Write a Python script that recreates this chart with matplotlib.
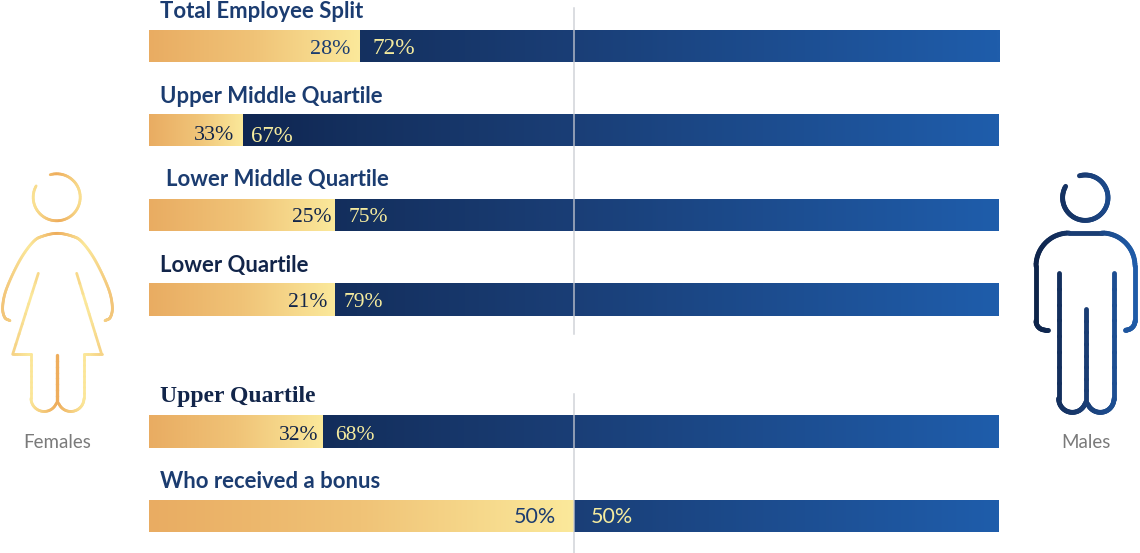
import numpy as np
import matplotlib
matplotlib.use("Agg")
import matplotlib.pyplot as plt
from matplotlib.colors import LinearSegmentedColormap
from matplotlib.collections import LineCollection

# ---- data ----
categories = ["Total Employee Split", "Upper Middle Quartile", "Lower Middle Quartile",
              "Lower Quartile", "Upper Quartile", "Who received a bonus"]
female_labels = ["28%", "33%", "25%", "21%", "32%", "50%"]
male_labels = ["72%", "67%", "75%", "79%", "68%", "50%"]
# drawn width of the female segment, as % of the bar (the picture differs from its labels)
female_drawn = [24.8, 11.1, 21.9, 21.9, 20.5, 50.0]

# ---- layout (pixels) ----
W, H = 1140, 553
BAR_L, BAR_R = 149, 999
row_y = [46, 130, 215, 299.5, 431.5, 516]
bar_h = 32.5
title_x = [160, 160, 166, 160, 160, 160]
title_y = [18.5, 103, 186, 272, 402, 488.5]
title_col = ["#1b3c70", "#1b3c70", "#1b3c70", "#12254a", "#12254a", "#1b3c70"]
f_gap = [9, 9, 4, 7.5, 5, 18]
m_gap = [13, 8, 13, 8, 12, 17]
label_dy = [3, 6, 3, 3, 3.5, 1]
f_size = [15.8, 15.8, 15.5, 15.5, 15.5, 15.5]
m_size = [16.8, 16.5, 15.5, 15.5, 15.5, 15.5]

gold = LinearSegmentedColormap.from_list("gold", ["#e9ac62", "#f0c377", "#fbe99b"])
navy_bar = LinearSegmentedColormap.from_list(
    "navy", [(0, "#0f2550"), (.16, "#14305f"), (.44, "#1a3e76"), (1, "#1f5dab")])
navy_fig = LinearSegmentedColormap.from_list("navyf", ["#0d2349", "#1a3d74", "#1f5dab"])
gold_fig = LinearSegmentedColormap.from_list("goldf", ["#f2c478", "#fbe89a", "#eead5c", "#fbe89a", "#f2c478"])

fig = plt.figure(figsize=(W / 100, H / 100), dpi=100)
ax = fig.add_axes([0, 0, 1, 1])
scale = (BAR_R - BAR_L) / 100
ax.set_xlim(-BAR_L / scale, (W - BAR_L) / scale)
ax.set_ylim(H, 0)
ax.axis("off")


def fill(bar, cmap, vmin=0, vmax=1):
    x, y = bar.get_x(), bar.get_y()
    w, h = bar.get_width(), bar.get_height()
    g = np.linspace(vmin, vmax, 512).reshape(1, -1)
    im = ax.imshow(g, extent=(x, x + w, y + h, y), cmap=cmap, vmin=0, vmax=1,
                   aspect="auto", zorder=2, interpolation="bilinear")
    im.set_clip_path(bar)


for i, v in enumerate(female_drawn):
    fb = ax.barh(row_y[i], v, height=bar_h, left=0, color="none", lw=0)[0]
    mb = ax.barh(row_y[i], 100 - v, height=bar_h, left=v, color="none", lw=0)[0]
    fill(fb, gold)
    fill(mb, navy_bar, (v - 10) / 90, 1)
    fam = "Lato" if i == 5 else "Liberation Serif"
    ax.text(v - f_gap[i] / scale, row_y[i] + label_dy[i], female_labels[i], ha="right", va="center",
            family=fam, fontsize=f_size[i], color="#1b3c70" if i in (0, 5) else "#12254a", zorder=4)
    ax.text(v + m_gap[i] / scale, row_y[i] + label_dy[i], male_labels[i], ha="left", va="center",
            family=fam, fontsize=m_size[i], color="#f5eb9e", zorder=4)
    serif = categories[i] == "Upper Quartile"
    ax.text((title_x[i] - BAR_L) / scale, title_y[i], categories[i], ha="left", va="baseline",
            family="Liberation Serif" if serif else "Lato", fontweight="bold",
            fontsize=17 if serif else 15.9, color=title_col[i], zorder=4)

# centre rules
cx = 50
ax.plot([cx, cx], [8, 334], color="#c9ccd2", lw=1.1, alpha=.85, zorder=3)
ax.plot([cx, cx], [394, 553], color="#c9ccd2", lw=1.1, alpha=.85, zorder=3)

# ---- icons, in pixel coordinates on an overlay ----
ov = fig.add_axes([0, 0, 1, 1])
ov.set_xlim(0, W)
ov.set_ylim(H, 0)
ov.axis("off")
ov.patch.set_alpha(0)


def smooth(pts, n=14):
    p = np.array(pts, float)
    p = np.vstack([2 * p[0] - p[1], p, 2 * p[-1] - p[-2]])
    out = []
    for i in range(1, len(p) - 2):
        t = np.linspace(0, 1, n, endpoint=False)[:, None]
        a, b, c, d = p[i - 1], p[i], p[i + 1], p[i + 2]
        out.append(.5 * (2 * b + (c - a) * t + (2 * a - 5 * b + 4 * c - d) * t ** 2 + (3 * b - a - 3 * c + d) * t ** 3))
    out.append(p[-2:-1])
    return np.vstack(out)


def zoomed(pts, ox, oy=160):
    return [(ox + x / 3, oy + y / 3) for x, y in pts]


def stroke(xy, cmap, x0, x1, lw):
    xy = np.asarray(xy)
    seg = np.stack([xy[:-1], xy[1:]], axis=1)
    c = cmap((seg[:, :, 0].mean(axis=1) - x0) / (x1 - x0))
    ov.add_collection(LineCollection(seg, colors=c, linewidths=lw, capstyle="round", joinstyle="round"))


def arc(cx_, cy_, r, a0, a1, n=80):
    a = np.radians(np.linspace(a0, a1, n))
    return np.column_stack([cx_ + r * np.cos(a), cy_ - r * np.sin(a)])


def poly(pts, n=8):
    out = []
    for a, b in zip(pts[:-1], pts[1:]):
        out.append(np.linspace(a, b, n, endpoint=False))
    out.append(np.array(pts[-1:], float))
    return np.vstack(out)


# female
F0, F1 = 2, 113
FW = 2.0
stroke(arc(56.7, 197.3, 23.5, 106, 151 - 360), gold_fig, F0, F1, FW)
stroke(smooth(zoomed([(30, 482), (14, 472), (8, 440), (20, 385), (60, 300), (100, 245), (130, 228), (172, 220),
                      (215, 228), (245, 245), (285, 300), (325, 385), (337, 440), (331, 472), (315, 482)], 0)),
       gold_fig, F0, F1, FW)
lr = 39.5 / 3
stroke(np.vstack([poly(zoomed([(115, 340), (38, 583), (93, 583), (93, 715)], 0)),
                  arc(31 + lr, 398.3, lr, 180, 335, 30),
                  poly([(57.3, 402)]),
                  arc(84 - lr, 398.3, lr, 205, 360, 30),
                  poly(zoomed([(252, 715), (252, 583), (305, 583), (230, 340)], 0))]),
       gold_fig, F0, F1, FW)
stroke(poly(zoomed([(172, 585), (172, 725)], 0)),
       LinearSegmentedColormap.from_list("g", ["#eead5c", "#eead5c"]), 0, 1, 2.4)

# male
M0, M1 = 1034, 1138
MW = 3.5
stroke(arc(1085.3, 197.7, 22.7, 105, 150 - 360), navy_fig, M0, M1, MW)
body = np.vstack([poly([(1048, 330), (1045, 330)]), arc(1045, 321, 9, 270, 180, 14),
                  arc(1069, 266, 33, 180, 90, 24), arc(1102, 266, 33, 90, 0, 24),
                  arc(1126, 321, 9, 0, -90, 14), poly([(1125, 330), (1125, 330)])])
stroke(body, navy_fig, M0, M1, MW)
mr = 41 / 3
stroke(np.vstack([poly(zoomed([(176, 340), (176, 716)], 1000)),
                  arc(1058.7 + mr, 398.7, mr, 180, 335, 30),
                  poly([(1086, 402)]),
                  arc(1114 - mr, 398.7, mr, 205, 360, 30),
                  poly(zoomed([(342, 716), (342, 340)], 1000))]), navy_fig, M0, M1, MW)
stroke(poly(zoomed([(258, 448), (258, 725)], 1000)), navy_fig, M0, M1, MW)

ov.text(57.5, 442, "Females", ha="center", va="center", family="Lato", fontsize=13.5, color="#7a7a7a")
ov.text(1086, 443, "Males", ha="center", va="center", family="Lato", fontsize=13.5, color="#7a7a7a")

fig.savefig("out.png", dpi=100, facecolor="white")
